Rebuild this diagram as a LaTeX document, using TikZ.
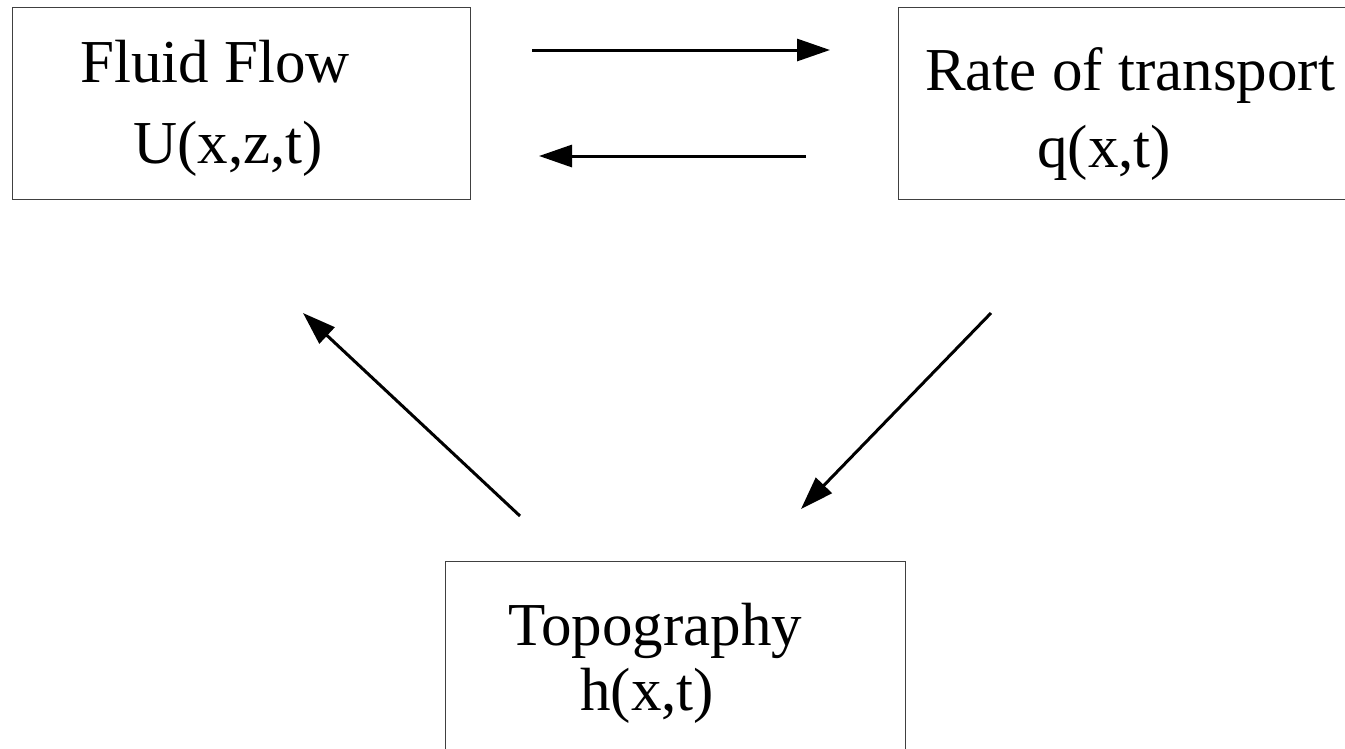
\documentclass[tikz,border=0pt]{standalone}
\usepackage{fontspec}
\setmainfont{Liberation Serif}
\usetikzlibrary{arrows.meta}
\tikzset{
  box/.style={draw=black!75, line width=1.3pt, rectangle, inner sep=0pt, anchor=north west},
  lbl/.style={inner sep=0pt, anchor=base west, font=\fontsize{61}{73}\selectfont},
  arr/.style={line width=3pt, -{Triangle[length=33pt,width=22pt]}}
}
\begin{document}
\begin{tikzpicture}[x=1pt,y=-1pt]
\useasboundingbox (0,0) rectangle (1345,748);
\clip (0,0) rectangle (1345,748);
% boxes
\node[box, minimum width=458.5pt, minimum height=192pt] (ff) at (11.5,7) {};
\node[box, minimum width=480pt, minimum height=192pt] (rt) at (898,7) {};
\node[box, minimum width=460pt, minimum height=220pt] (tp) at (445,561) {};
% labels
\node[lbl] (ff1) at (80,82) {Fluid Flow};
\node[lbl] (ff2) at (133,163) {U(x,z,t)};
\node[lbl] (rt1) at (925,90) {Rate of transport};
\node[lbl] (rt2) at (1037,167) {q(x,t)};
\node[lbl] (tp1) at (508,645) {Topography};
\node[lbl] (tp2) at (580,710) {h(x,t)};
% arrow end points
\coordinate (a1s) at (532,50);
\coordinate (a1e) at (830,50);
\coordinate (a2s) at (806,156);
\coordinate (a2e) at (539,156);
\coordinate (a3s) at (520,516);
\coordinate (a3e) at (303,313);
\coordinate (a4s) at (991,313);
\coordinate (a4e) at (801,509);
\draw[arr] (a1s) -- (a1e);
\draw[arr] (a2s) -- (a2e);
\draw[arr] (a3s) -- (a3e);
\draw[arr] (a4s) -- (a4e);
\end{tikzpicture}
\end{document}
